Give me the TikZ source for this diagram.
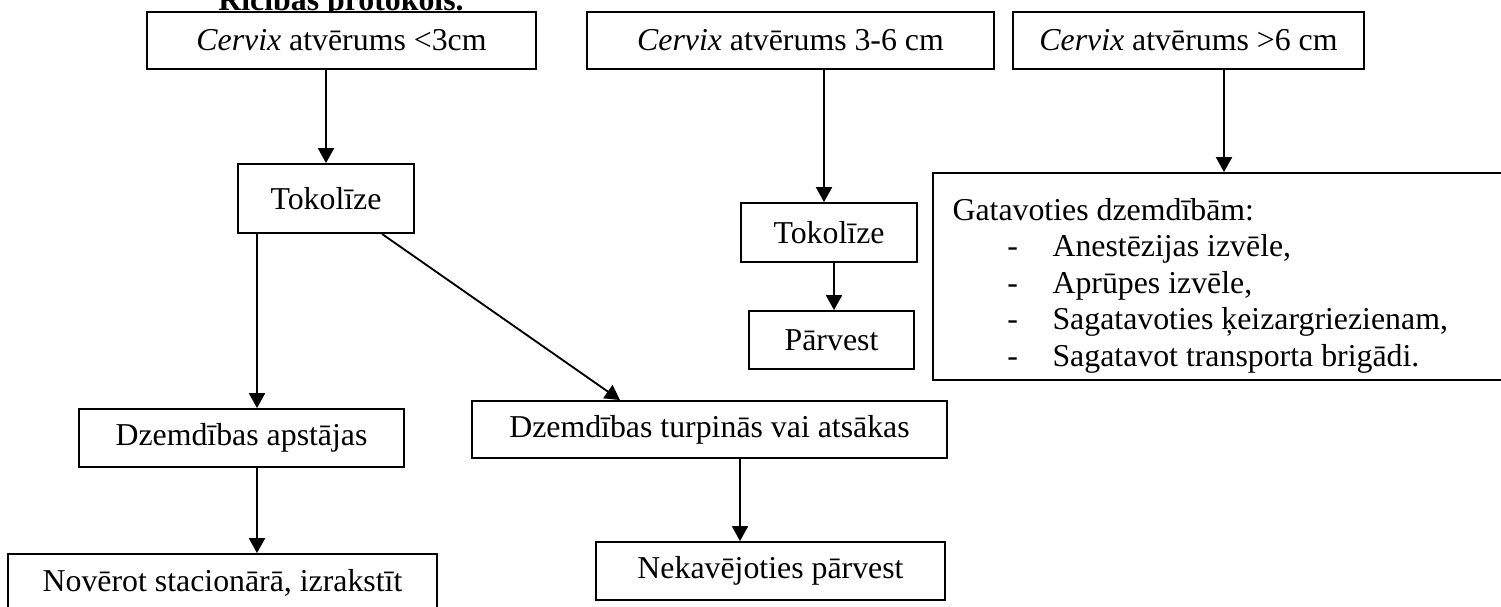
\documentclass[tikz,border=0pt]{standalone}
\usepackage{fontspec}
\setmainfont{Liberation Serif}
\usetikzlibrary{arrows.meta}
\newcommand{\listdash}{\makebox[37.7pt][l]{\hspace{20.7pt}-}}
\tikzset{
  box/.style 2 args={draw, fill=white, line width=0.7pt, inner sep=0pt,
    minimum width=#1*0.377pt, minimum height=#2*0.377pt},
  arr/.style={line width=0.7pt, -{Triangle[length=5.6pt,width=6pt]}}
}
\begin{document}
\begin{tikzpicture}[x=0.377pt,y=-0.377pt,font=\fontsize{12pt}{13.8pt}\selectfont]
\useasboundingbox (0,0) rectangle (1501,606);
\node[anchor=base,font=\fontsize{12pt}{13.8pt}\selectfont\bfseries] (title) at (341,10) {Rīcības protokols.};

\node[box={389}{57}] (c1) at (341.5,40.5) {\textit{Cervix} atvērums <3cm};
\node[box={407}{57}] (c2) at (790.5,40.5) {\textit{Cervix} atvērums 3-6 cm};
\node[box={351}{57}] (c3) at (1188.5,40.5) {\textit{Cervix} atvērums >6 cm};

\node[box={176}{69}] (t1) at (326,198.5) {Tokolīze};
\node[box={325}{58}] (a1) at (241.5,438) {Dzemdības apstājas};
\node[box={475}{57}] (tp) at (709.5,429.5) {Dzemdības turpinās vai atsākas};
\node[box={429}{58}] (nv) at (222.5,583) {Novērot stacionārā, izrakstīt};
\node[box={349}{58}] (nk) at (770.5,571) {Nekavējoties pārvest};

\node[box={176}{59}] (t2) at (829,232.5) {Tokolīze};
\node[box={165}{58}] (p2) at (831.5,340) {Pārvest};

\node[box={587}{207}] (g) at (1226.5,276.5) {};
\node[anchor=base west, inner sep=0pt] (gt) at (952,220) {\begin{tabular}[t]{@{}l@{}}
Gatavoties dzemdībām:\\
\listdash Anestēzijas izvēle,\\
\listdash Aprūpes izvēle,\\
\listdash Sagatavoties ķeizargriezienam,\\
\listdash Sagatavot transporta brigādi.
\end{tabular}};

\draw[arr] (c1.south -| 326,0) -- (t1.north -| 326,0);
\draw[arr] (t1.south -| 257,0) -- (a1.north -| 257,0);
\draw[arr] (t1.south -| 382,0) -- (tp.north -| 620,0);
\draw[arr] (a1.south -| 257,0) -- (nv.north -| 257,0);
\draw[arr] (tp.south -| 740,0) -- (nk.north -| 740,0);
\draw[arr] (c2.south -| 824,0) -- (t2.north -| 824,0);
\draw[arr] (t2.south -| 834,0) -- (p2.north -| 834,0);
\draw[arr] (c3.south -| 1224,0) -- (g.north -| 1224,0);
\end{tikzpicture}
\end{document}
